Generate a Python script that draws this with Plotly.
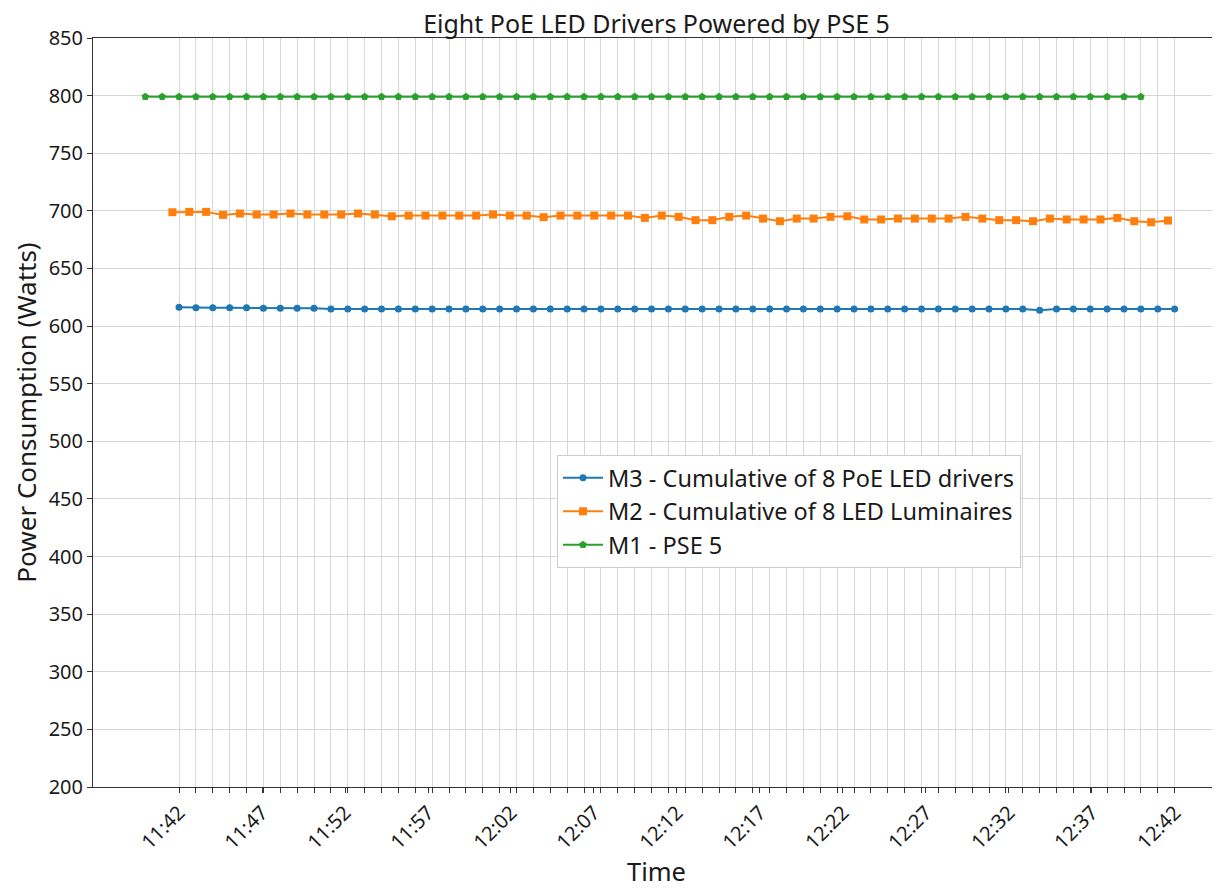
import pandas as pd
import plotly.graph_objects as go

# ---- data ----
DAY = "2023-05-10"
SAMPLE_SECONDS = 61
M1_START = "11:39:58"
M2_START = "11:41:36"
M3_START = "11:42:00"

tick_labels = ["11:42", "11:47", "11:52", "11:57", "12:02", "12:07", "12:12",
               "12:17", "12:22", "12:27", "12:32", "12:37", "12:42"]

m3_driver_w = [616.4, 615.8, 615.8, 615.8, 615.8, 615.5, 615.5, 615.5, 615.5, 614.8,
               614.8, 614.8, 614.8, 614.8, 614.8, 614.8, 614.8, 614.8, 614.8, 614.8,
               614.8, 614.8, 614.8, 614.8, 614.8, 614.8, 614.8, 614.8, 614.8, 614.8,
               614.8, 614.8, 614.8, 614.8, 614.8, 614.8, 614.8, 614.8, 614.8, 614.8,
               614.8, 614.8, 614.8, 614.8, 614.8, 614.8, 614.8, 614.8, 614.8, 614.8,
               614.8, 613.8, 614.8, 614.8, 614.8, 614.8, 614.8, 614.8, 614.8, 614.8]

m2_luminaire_w = [698.8, 699.1, 699.1, 696.5, 697.7, 696.8, 696.8, 697.7, 696.8, 696.8,
                  696.8, 697.7, 696.8, 695.3, 695.9, 695.9, 695.9, 695.9, 695.9, 696.8,
                  695.9, 695.9, 694.5, 695.9, 695.9, 695.9, 695.9, 695.9, 693.9, 695.9,
                  694.8, 691.9, 691.9, 694.8, 695.9, 693.3, 691.0, 693.3, 693.3, 694.8,
                  695.3, 692.5, 692.5, 693.3, 693.3, 693.3, 693.3, 694.8, 693.3, 691.9,
                  691.9, 691.0, 693.3, 692.5, 692.5, 692.5, 693.9, 691.0, 690.1, 691.6]

m1_pse_w = [799, 799, 799, 799, 799, 799, 799, 799, 799, 799,
            799, 799, 799, 799, 799, 799, 799, 799, 799, 799,
            799, 799, 799, 799, 799, 799, 799, 799, 799, 799,
            799, 799, 799, 799, 799, 799, 799, 799, 799, 799,
            799, 799, 799, 799, 799, 799, 799, 799, 799, 799,
            799, 799, 799, 799, 799, 799, 799, 799, 799, 799]

series_names = ["M3 - Cumulative of 8 PoE LED drivers",
                "M2 - Cumulative of 8 LED Luminaires",
                "M1 - PSE 5"]

title_text = "Eight PoE LED Drivers Powered by PSE 5"
x_title = "Time"
y_title = "Power Consumption (Watts)"


def times(start, n):
    return pd.date_range(f"{DAY} {start}", periods=n, freq=f"{SAMPLE_SECONDS}s")


t3 = times(M3_START, len(m3_driver_w))
t2 = times(M2_START, len(m2_luminaire_w))
t1 = times(M1_START, len(m1_pse_w))
tick_times = [pd.Timestamp(f"{DAY} {s}") for s in tick_labels]

FONT = "Noto Sans"
TXT = "#1a1a1a"
BLUE, ORANGE, GREEN = "#1f77b4", "#ff7f0e", "#2ca02c"
GRID = "#d6d6d6"
AX = "#333333"

fig = go.Figure()
fig.add_trace(go.Scatter(x=t3, y=m3_driver_w, name=series_names[0], mode="lines+markers",
                         line=dict(color=BLUE, width=2),
                         marker=dict(symbol="circle", size=7, color=BLUE)))
fig.add_trace(go.Scatter(x=t2, y=m2_luminaire_w, name=series_names[1], mode="lines+markers",
                         line=dict(color=ORANGE, width=2),
                         marker=dict(symbol="square", size=8, color=ORANGE)))
fig.add_trace(go.Scatter(x=t1, y=m1_pse_w, name=series_names[2], mode="lines+markers",
                         line=dict(color=GREEN, width=2),
                         marker=dict(symbol="pentagon", size=8, color=GREEN)))

# the page places the figure 8 px from the top-left corner
fig.update_layout(
    width=1212, height=880,
    margin=dict(l=85, r=0, t=30, b=101, autoexpand=False),
    paper_bgcolor="white", plot_bgcolor="white",
    font=dict(family=FONT, size=20, color=TXT),
    title=dict(text=title_text, x=0.5, xanchor="center", xref="paper",
               y=0.9815, yanchor="middle", yref="container",
               font=dict(family=FONT, size=25, color=TXT)),
    showlegend=True,
    legend=dict(x=0.4117, y=0.4433, xanchor="left", yanchor="top",
                bgcolor="white", bordercolor="#cccccc", borderwidth=1,
                font=dict(family=FONT, size=23.5, color=TXT),
                itemwidth=40, tracegroupgap=0),
)

fig.update_xaxes(
    type="date",
    range=[f"{DAY} 11:36:49", f"{DAY} 12:44:43"],
    tickmode="array", tickvals=tick_times, ticktext=tick_labels,
    tickangle=-45,
    ticks="outside", ticklen=5, tickcolor=AX,
    showgrid=False,
    minor=dict(tickmode="array", tickvals=list(t3), showgrid=True, gridcolor=GRID,
               gridwidth=1, ticks="outside", ticklen=5, tickcolor=AX),
    showline=True, linecolor=AX, linewidth=1, mirror=True,
    zeroline=False, automargin=False,
    title=dict(text=x_title, font=dict(family=FONT, size=25.5), standoff=13),
    tickfont=dict(family=FONT, size=20),
)
fig.update_yaxes(
    range=[200, 850], tickmode="linear", tick0=200, dtick=50,
    ticks="outside", ticklen=5, tickcolor=AX,
    showgrid=True, gridcolor=GRID, gridwidth=1,
    showline=True, linecolor=AX, linewidth=1,
    zeroline=False, automargin=False,
    title=dict(text=y_title, font=dict(family=FONT, size=26), standoff=23),
    tickfont=dict(family=FONT, size=20),
)

fig.write_html("out.html")
